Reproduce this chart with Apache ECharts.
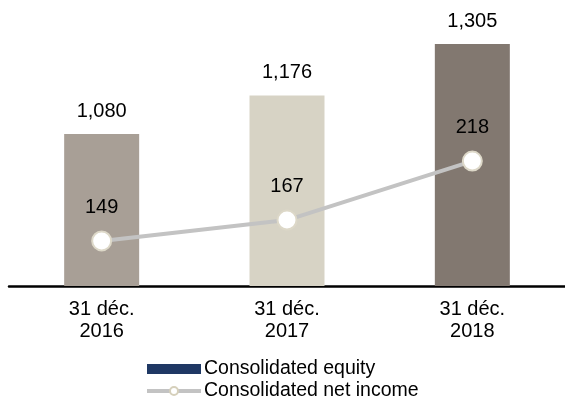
<!DOCTYPE html>
<html>
<head>
<meta charset="utf-8">
<script src="https://cdn.jsdelivr.net/npm/echarts@6/dist/echarts.min.js"></script>
<style>
html, body { margin: 0; padding: 0; background: #fff; }
#chart { width: 565px; height: 401px; }
</style>
</head>
<body>
<div id="chart"></div>
<script>
// catégories et valeurs
var categories = ['31 déc.\n2016', '31 déc.\n2017', '31 déc.\n2018'];
var equity = [1080, 1176, 1305];
var netIncome = [149, 167, 218];
var barColors = ['#a89f96', '#d7d3c5', '#827870'];

var myChart = echarts.init(document.getElementById('chart'));

var font = 'Arial, "Liberation Sans", sans-serif';

var option = {
  animation: false,
  grid: {
    left: 9,
    right: -2,
    top: 20,
    bottom: 115
  },
  legend: {
    orient: 'vertical',
    left: 145,
    top: 359,
    height: 60,
    padding: 0,
    itemGap: 2,
    itemWidth: 54,
    itemHeight: 10,
    textStyle: { fontFamily: font, fontSize: 19.5, lineHeight: 20, color: '#000', padding: [0, 0, 0, -2] },
    data: [
      { name: 'Consolidated equity', icon: 'rect' },
      {
        name: 'Consolidated net income',
        lineStyle: { width: 4, color: '#c3c3c3' },
        itemStyle: { color: '#ffffff', borderColor: '#d6d0bb', borderWidth: 2 }
      }
    ]
  },
  xAxis: {
    type: 'category',
    data: categories,
    axisLine: { lineStyle: { color: '#000', width: 2.5 } },
    axisTick: { show: false },
    axisLabel: {
      margin: 12,
      fontFamily: font,
      fontSize: 20,
      lineHeight: 22,
      color: '#000'
    }
  },
  yAxis: [
    { type: 'value', min: 700, max: 1365, show: false, splitLine: { show: false } },
    { type: 'value', min: 110, max: 340, show: false, splitLine: { show: false } }
  ],
  series: [
    {
      name: 'Consolidated equity',
      type: 'bar',
      barWidth: 75,
      itemStyle: { color: '#1f3864' },
      data: equity.map(function (v, i) {
        return { value: v, itemStyle: { color: barColors[i] } };
      }),
      label: {
        show: true,
        position: 'top',
        distance: 13,
        fontFamily: font,
        fontSize: 20,
        color: '#000',
        formatter: function (p) { return p.value.toLocaleString('en-US'); }
      }
    },
    {
      name: 'Consolidated net income',
      type: 'line',
      yAxisIndex: 1,
      data: netIncome,
      symbol: 'circle',
      symbolSize: 19,
      lineStyle: { color: '#c3c3c3', width: 4 },
      itemStyle: { color: '#ffffff', borderColor: '#ddd8c8', borderWidth: 2 },
      label: {
        show: true,
        position: 'top',
        distance: 13,
        fontFamily: font,
        fontSize: 20,
        color: '#000'
      },
      z: 3
    }
  ]
};

myChart.setOption(option);
</script>
</body>
</html>
